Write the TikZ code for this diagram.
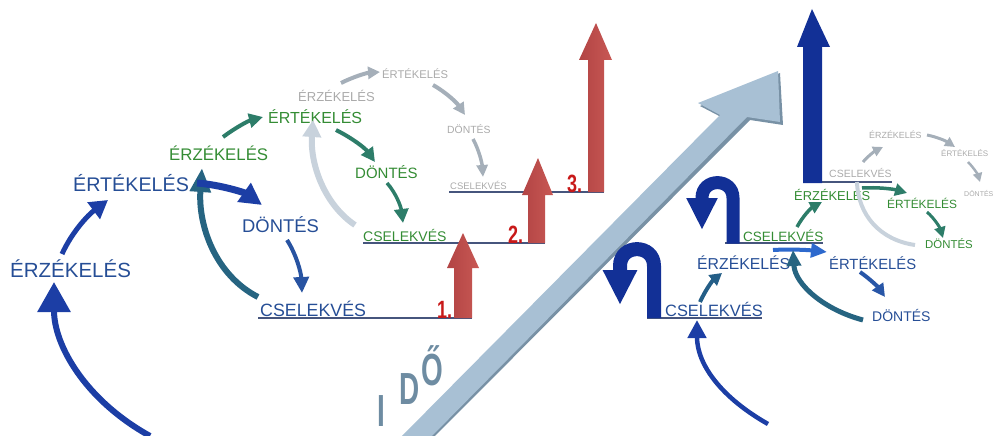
\documentclass[tikz,border=0pt]{standalone}
\usepackage{fontspec}
\setmainfont{Liberation Sans}
\usetikzlibrary{arrows.meta}
\definecolor{tblue}{RGB}{38,78,150}
\definecolor{ablue}{RGB}{28,62,165}
\definecolor{ublue}{RGB}{18,48,150}
\definecolor{tgreen}{RGB}{52,140,52}
\definecolor{ateal}{RGB}{45,125,105}
\definecolor{tgray}{RGB}{170,170,170}
\definecolor{agray}{RGB}{165,175,185}
\definecolor{alight}{RGB}{200,210,220}
\definecolor{bigarr}{RGB}{168,192,212}
\definecolor{bigedge}{RGB}{120,145,165}
\definecolor{redarr}{RGB}{200,88,84}
\definecolor{redarrL}{RGB}{178,68,68}
\definecolor{rednum}{RGB}{200,25,25}
\definecolor{idocol}{RGB}{110,140,162}
\definecolor{linec}{RGB}{70,85,125}
\definecolor{bblue}{RGB}{45,105,205}
\newcommand{\fsz}[1]{\fontsize{#1}{#1}\selectfont}
\tikzset{
  lbl/.style={inner sep=0pt, anchor=base west},
  carrow/.style n args={3}{line width=#1, -{Triangle[length=#2,width=#3]}},
  uline/.style={linec, line width=1.2pt},
  num/.style={inner sep=0pt, anchor=base west, text=rednum, font=\fsz{25}\bfseries, xscale=0.72},
  ido/.style={inner sep=0pt, anchor=base, text=idocol, font=\fsz{45}\bfseries, xscale=0.62}
}
\begin{document}
\begin{tikzpicture}[x=1pt,y=-1pt]
\useasboundingbox (0,0) rectangle (994,436);
\clip (0,0) rectangle (994,436);

% big diagonal arrow
\fill[bigedge] (402,440) -- (723,118) -- (700,106) -- (780,73) -- (783,125) -- (750,120) -- (431,440) -- cycle;
\fill[bigarr] (398,440) -- (720,115) -- (698,103) -- (778,71) -- (780,122) -- (747,117) -- (428,440) -- cycle;

% underlines
\draw[uline] (258,318) -- (472,318);
\draw[uline] (363,243) -- (545,243);
\draw[uline] (449,192) -- (604,192);
\draw[uline] (647,318) -- (762,318);
\draw[uline] (725,243) -- (823,243);
\draw[uline] (803,182) -- (892,182);

% red arrows
\shade[left color=redarrL, right color=redarr] (454,318) -- (454,268) -- (447,268) -- (463,233) -- (479,268) -- (472,268) -- (472,318) -- cycle;
\shade[left color=redarrL, right color=redarr] (528,243) -- (528,195) -- (522,195) -- (538,158) -- (553,195) -- (545,195) -- (545,243) -- cycle;
\shade[left color=redarrL, right color=redarr] (588,192) -- (588,60) -- (579,60) -- (596,23) -- (612,60) -- (604,60) -- (604,192) -- cycle;
\node[num] (n1) at (437,318) {1.};
\node[num] (n2) at (508,243) {2.};
\node[num] (n3) at (567,192) {3.};

% IDO
\node[ido] (i1) at (381,426) {I};
\node[ido] (i2) at (410,404) {D};
\node[ido] (i3) at (432,385) {Ő};

% big blue vertical arrow
\fill[ublue] (803,183) -- (803,47) -- (797,47) -- (812,9) -- (830,47) -- (822,47) -- (822,183) -- cycle;

% U-turns
\draw[ublue, line width=14pt, -{Triangle[length=35pt,width=32pt]}] (654,318) -- (654,266) .. controls (654,243.5) and (620,243.5) .. (620,266) -- (620,305);
\draw[ublue, line width=13pt, -{Triangle[length=32pt,width=29pt]}] (733,243.5) -- (733,198) .. controls (733,177.5) and (702,177.5) .. (702,198) -- (702,230);

% ---- left blue cycle
\node[lbl, text=tblue, font=\fsz{20.5}] (b1) at (10,277) {ÉRZÉKELÉS};
\node[lbl, text=tblue, font=\fsz{19.7}] (b2) at (73,191) {ÉRTÉKELÉS};
\node[lbl, text=tblue, font=\fsz{18.4}] (b3) at (242,232) {DÖNTÉS};
\node[lbl, text=tblue, font=\fsz{17.8}] (b4) at (260,316) {CSELEKVÉS};
\draw[carrow={6pt}{30pt}{32pt}, ablue] (150,436) .. controls (85,400) and (54,345) .. (54,282);
\draw[carrow={5pt}{18pt}{20pt}, ablue] (62,254) .. controls (72,232) and (88,215) .. (108,200);
\draw[carrow={6pt}{24pt}{20pt}, ateal!60!ablue] (258,297) .. controls (215,275) and (198,225) .. (202,168);
\draw[carrow={7pt}{22pt}{22pt}, ablue] (197,183) .. controls (222,185) and (245,193) .. (262,205);
\draw[carrow={4pt}{16pt}{15pt}, tblue!80!bblue] (287,240) .. controls (296,254) and (301,272) .. (302,293);

% ---- green cycle
\node[lbl, text=tgreen, font=\fsz{16.8}] (g1) at (169,160) {ÉRZÉKELÉS};
\node[lbl, text=tgreen, font=\fsz{16}] (g2) at (268,124) {ÉRTÉKELÉS};
\node[lbl, text=tgreen, font=\fsz{15}] (g3) at (355,178) {DÖNTÉS};
\node[lbl, text=tgreen, font=\fsz{14}] (g4) at (363,241) {CSELEKVÉS};
\draw[carrow={4pt}{14pt}{14pt}, ateal] (223,137) .. controls (235,128) and (248,121) .. (263,117);
\draw[carrow={4pt}{14pt}{14pt}, ateal] (336,130) .. controls (352,138) and (365,148) .. (375,162);
\draw[carrow={3.5pt}{14pt}{14pt}, ateal] (387,183) .. controls (396,193) and (401,207) .. (403,223);
\draw[carrow={6pt}{17pt}{18pt}, alight] (355,225) .. controls (325,205) and (310,165) .. (313,120);

% ---- gray cycle
\node[lbl, text=tgray, font=\fsz{13}] (y1) at (298,102) {ÉRZÉKELÉS};
\node[lbl, text=tgray, font=\fsz{11.2}] (y2) at (382,78) {ÉRTÉKELÉS};
\node[lbl, text=tgray, font=\fsz{10.4}] (y3) at (447,133) {DÖNTÉS};
\node[lbl, text=tgray, font=\fsz{9.5}] (y4) at (450,189) {CSELEKVÉS};
\draw[carrow={4pt}{12pt}{12pt}, agray] (341,83) .. controls (353,77) and (366,73) .. (380,72);
\draw[carrow={4pt}{12pt}{12pt}, agray] (433,85) .. controls (447,93) and (457,103) .. (465,115);
\draw[carrow={3.5pt}{12pt}{11pt}, agray] (473,139) .. controls (479,150) and (482,163) .. (483,177);

% ---- right blue cycle
\node[lbl, text=tblue, font=\fsz{16.4}] (rb4) at (665,316) {CSELEKVÉS};
\node[lbl, text=tblue, font=\fsz{15.8}] (rb1) at (697,269) {ÉRZÉKELÉS};
\node[lbl, text=tblue, font=\fsz{14.8}] (rb2) at (829,269) {ÉRTÉKELÉS};
\node[lbl, text=tblue, font=\fsz{14}] (rb3) at (872,321) {DÖNTÉS};
\draw[carrow={4.5pt}{18pt}{18pt}, ablue] (768,424) .. controls (722,398) and (697,365) .. (697,320);
\draw[carrow={4pt}{12pt}{13pt}, ateal!50!ablue] (700,302) .. controls (705,291) and (712,281) .. (722,273);
\draw[carrow={4pt}{16pt}{14pt}, bblue] (773,250) .. controls (790,249) and (808,250) .. (827,252);
\draw[carrow={4pt}{13pt}{13pt}, tblue!70!bblue] (860,272) .. controls (870,279) and (878,287) .. (885,297);
\draw[carrow={5pt}{16pt}{14pt}, ateal!60!ablue] (863,320) .. controls (825,310) and (795,285) .. (793,250);

% ---- right green cycle
\node[lbl, text=tgreen, font=\fsz{13.5}] (rg4) at (743,241) {CSELEKVÉS};
\node[lbl, text=tgreen, font=\fsz{12.9}] (rg1) at (794,200) {ÉRZÉKELÉS};
\node[lbl, text=tgreen, font=\fsz{11.9}] (rg2) at (887,208) {ÉRTÉKELÉS};
\node[lbl, text=tgreen, font=\fsz{11.4}] (rg3) at (925,248) {DÖNTÉS};
\draw[carrow={3.5pt}{12pt}{12pt}, ateal] (797,227) .. controls (803,216) and (811,208) .. (822,202);
\draw[carrow={3.5pt}{12pt}{12pt}, ateal] (862,188) .. controls (877,187) and (893,189) .. (907,193);
\draw[carrow={3pt}{11pt}{11pt}, ateal] (927,212) .. controls (935,219) and (940,228) .. (943,238);
\draw[alight, line width=4pt] (915,245) .. controls (880,240) and (858,215) .. (857,182);

% ---- right gray cycle
\node[lbl, text=tgray, font=\fsz{10.5}] (ry4) at (829,177) {CSELEKVÉS};
\node[lbl, text=tgray, font=\fsz{8.9}] (ry1) at (869,139) {ÉRZÉKELÉS};
\node[lbl, text=tgray, font=\fsz{8}] (ry2) at (941,157) {ÉRTÉKELÉS};
\node[lbl, text=tgray, font=\fsz{7}] (ry3) at (964,196) {DÖNTÉS};
\draw[carrow={3pt}{10pt}{10pt}, agray] (863,162) .. controls (868,156) and (875,151) .. (883,147);
\draw[carrow={3pt}{10pt}{10pt}, agray] (927,135) .. controls (937,137) and (946,141) .. (955,147);
\draw[carrow={2.5pt}{9pt}{9pt}, agray] (968,162) .. controls (974,168) and (978,175) .. (980,182);
\end{tikzpicture}
\end{document}
